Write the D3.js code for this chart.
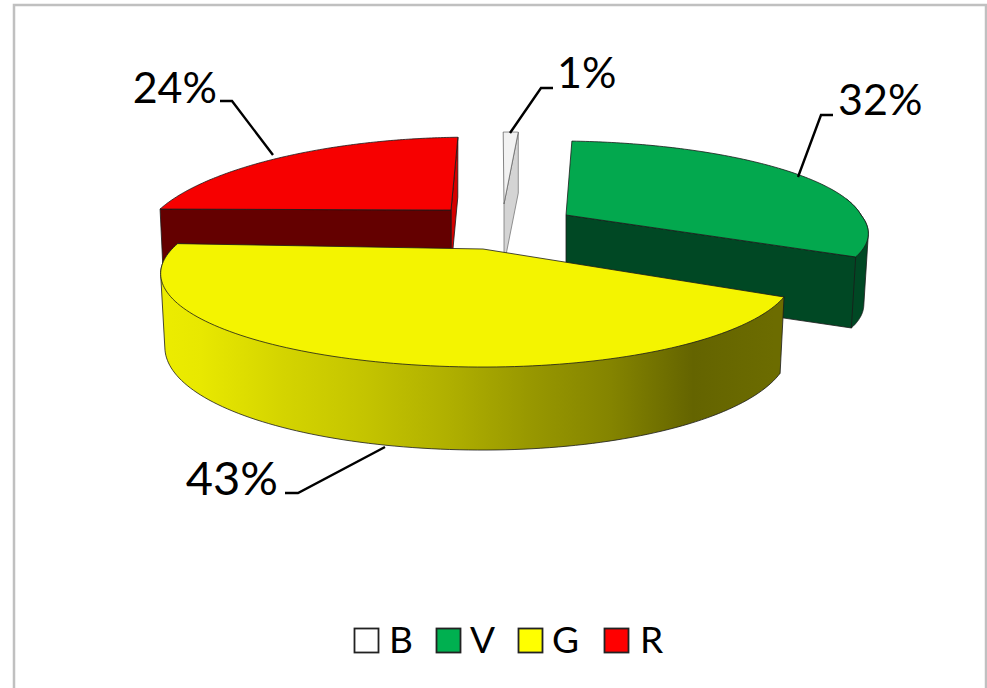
<!DOCTYPE html>
<html><head><meta charset="utf-8">
<script src="https://cdn.jsdelivr.net/npm/d3@7"></script>
<style>html,body{margin:0;padding:0;background:#fff}svg{display:block}text{font-family:Lato,sans-serif;fill:#000}</style>
</head><body><svg id="c" width="987" height="688"></svg>
<script>
const categories = ["B","V","G","R"];
const shares = [1,32,43,24];
const topColors = ["#f2f2f2","#03a84e","#f4f400","#f70000"];
const legendColors = ["#ffffff","#00b050","#ffff00","#ff0000"];

const svg = d3.select("#c");
svg.append("rect").attr("x",14).attr("y",5).attr("width",972).attr("height",700)
  .attr("fill","#fff").attr("stroke","#c0c0c0").attr("stroke-width",2.5);

const pie = d3.pie().sort(null).value(d=>d);
const arcs = pie(shares);

// per-slice projection
const rad = Math.PI/180;
const geo = [
 {cx:504,cy:204,rxL:300,rxR:300,ry:90,k:.25,sU:-1,sD:-1,delta:0,d0:61,d1:0,shrink:1},
 {cx:566,cy:215,rxL:295,rxR:295,ry:82.4,k:.113,sU:-12,sD:-32,delta:0,d0:71,d1:0,shrink:.985},
 {cx:483,cy:249,rxL:311,rxR:300,ry:87,k:.263,sU:0,sD:0,delta:0,d0:70,d1:13,shrink:.987},
 {cx:451,cy:210,rxL:292,rxR:292,ry:92,k:.263,sU:24,sD:24,delta:-3*rad,d0:60,d1:0,shrink:.99}
];
function proj(g,t){
  const a=t+g.delta, s=Math.sin(a), v=Math.cos(a), P=1/(1+g.k*v);
  const rx=s<0?g.rxL:g.rxR, sh=v>0?g.sU:g.sD;
  return [g.cx+(rx*s+sh*v)*P, g.cy-g.ry*v*P, v];
}
function low(g,p){ return [g.cx+(p[0]-g.cx)*g.shrink, p[1]+g.d0-g.d1*p[2]]; }
function arcPts(g,t0,t1){ const n=120; return d3.range(n+1).map(i=>proj(g,t0+(t1-t0)*i/n)); }
const line = d3.line().x(d=>d[0]).y(d=>d[1]);
const edge = "#1a1a1a";

const defs = svg.append("defs");
const grad = defs.append("linearGradient").attr("id","yw").attr("gradientUnits","userSpaceOnUse")
  .attr("x1",162).attr("x2",784).attr("y1",0).attr("y2",0);
[[0,"#ecec00"],[.063,"#e8e800"],[.195,"#d4d400"],[.326,"#c4c400"],[.458,"#b0b000"],[.59,"#989800"],[.722,"#848400"],[.854,"#646400"],[.985,"#6c6c00"]]
 .forEach(s=>grad.append("stop").attr("offset",s[0]).attr("stop-color",s[1]));

function drawWall(g,t0,t1,fill){
  const top=arcPts(g,t0,t1), pts=top.concat(top.map(p=>low(g,p))).map(p=>[p[0],p[1]]);
  svg.append("path").attr("d",line(d3.polygonHull(pts))+"Z").attr("fill",fill)
    .attr("stroke",edge).attr("stroke-width",.8);
}
function drawCut(g,t,fill,st){
  const p=proj(g,t), a=[g.cx,g.cy,0];
  svg.append("path").attr("d",line([a,p,low(g,p),low(g,a)])+"Z").attr("fill",fill)
    .attr("stroke",st||edge).attr("stroke-width",.8);
}
function drawTop(g,t0,t1,fill,st){
  svg.append("path").attr("d",line([[g.cx,g.cy]].concat(arcPts(g,t0,t1)))+"Z").attr("fill",fill)
    .attr("stroke",st||edge).attr("stroke-width",.8).attr("stroke-linejoin","round");
}
const [aB,aV,aG,aR]=arcs, [gB,gV,gG,gR]=geo;
// red
drawCut(gR,aR.endAngle,"#d40000");
drawCut(gR,aR.startAngle,"#640000");
drawTop(gR,aR.startAngle,aR.endAngle,topColors[3]);
// white
drawCut(gB,aB.endAngle,"#d4d4d4","#777");
drawTop(gB,aB.startAngle,aB.endAngle,topColors[0],"#666");
// green
drawWall(gV,aV.startAngle+(aV.endAngle-aV.startAngle)*.65,aV.endAngle,"#004824");
drawCut(gV,aV.endAngle,"#004824");
drawTop(gV,aV.startAngle,aV.endAngle,topColors[1]);
// yellow
drawWall(gG,aG.startAngle,aG.endAngle,"url(#yw)");
drawTop(gG,aG.startAngle,aG.endAngle,topColors[2]);

// leaders and labels
const leaders=[[[510,133],[541,88],[553,88]],[[798,177],[821,115],[833,115]],[[385,447],[298,493],[285,493]],[[273,155],[232,101],[220,101]]];
const labelPos=[[557,88,"start",43],[838,115,"start",43],[278,495,"end",47],[217,103,"end",43]];
leaders.forEach(l=>svg.append("path").attr("d",line(l)).attr("fill","none").attr("stroke","#000").attr("stroke-width",2.4));
svg.selectAll("text.lab").data(shares).join("text").attr("class","lab")
  .attr("x",(d,i)=>labelPos[i][0]).attr("y",(d,i)=>labelPos[i][1])
  .attr("text-anchor",(d,i)=>labelPos[i][2]).attr("font-size",(d,i)=>labelPos[i][3])
  .text(d=>d+"%");

// legend
const legX=[354,436,518,604], legT=[389,470,552,640];
svg.selectAll("rect.leg").data(categories).join("rect").attr("class","leg")
  .attr("x",(d,i)=>legX[i]+.5).attr("y",628.5).attr("width",24).attr("height",24)
  .attr("fill",(d,i)=>legendColors[i]).attr("stroke","#222").attr("stroke-width",1.8);
svg.selectAll("text.legt").data(categories).join("text").attr("class","legt")
  .attr("x",(d,i)=>legT[i]).attr("y",653).attr("font-size",37).text(d=>d);
</script></body></html>
